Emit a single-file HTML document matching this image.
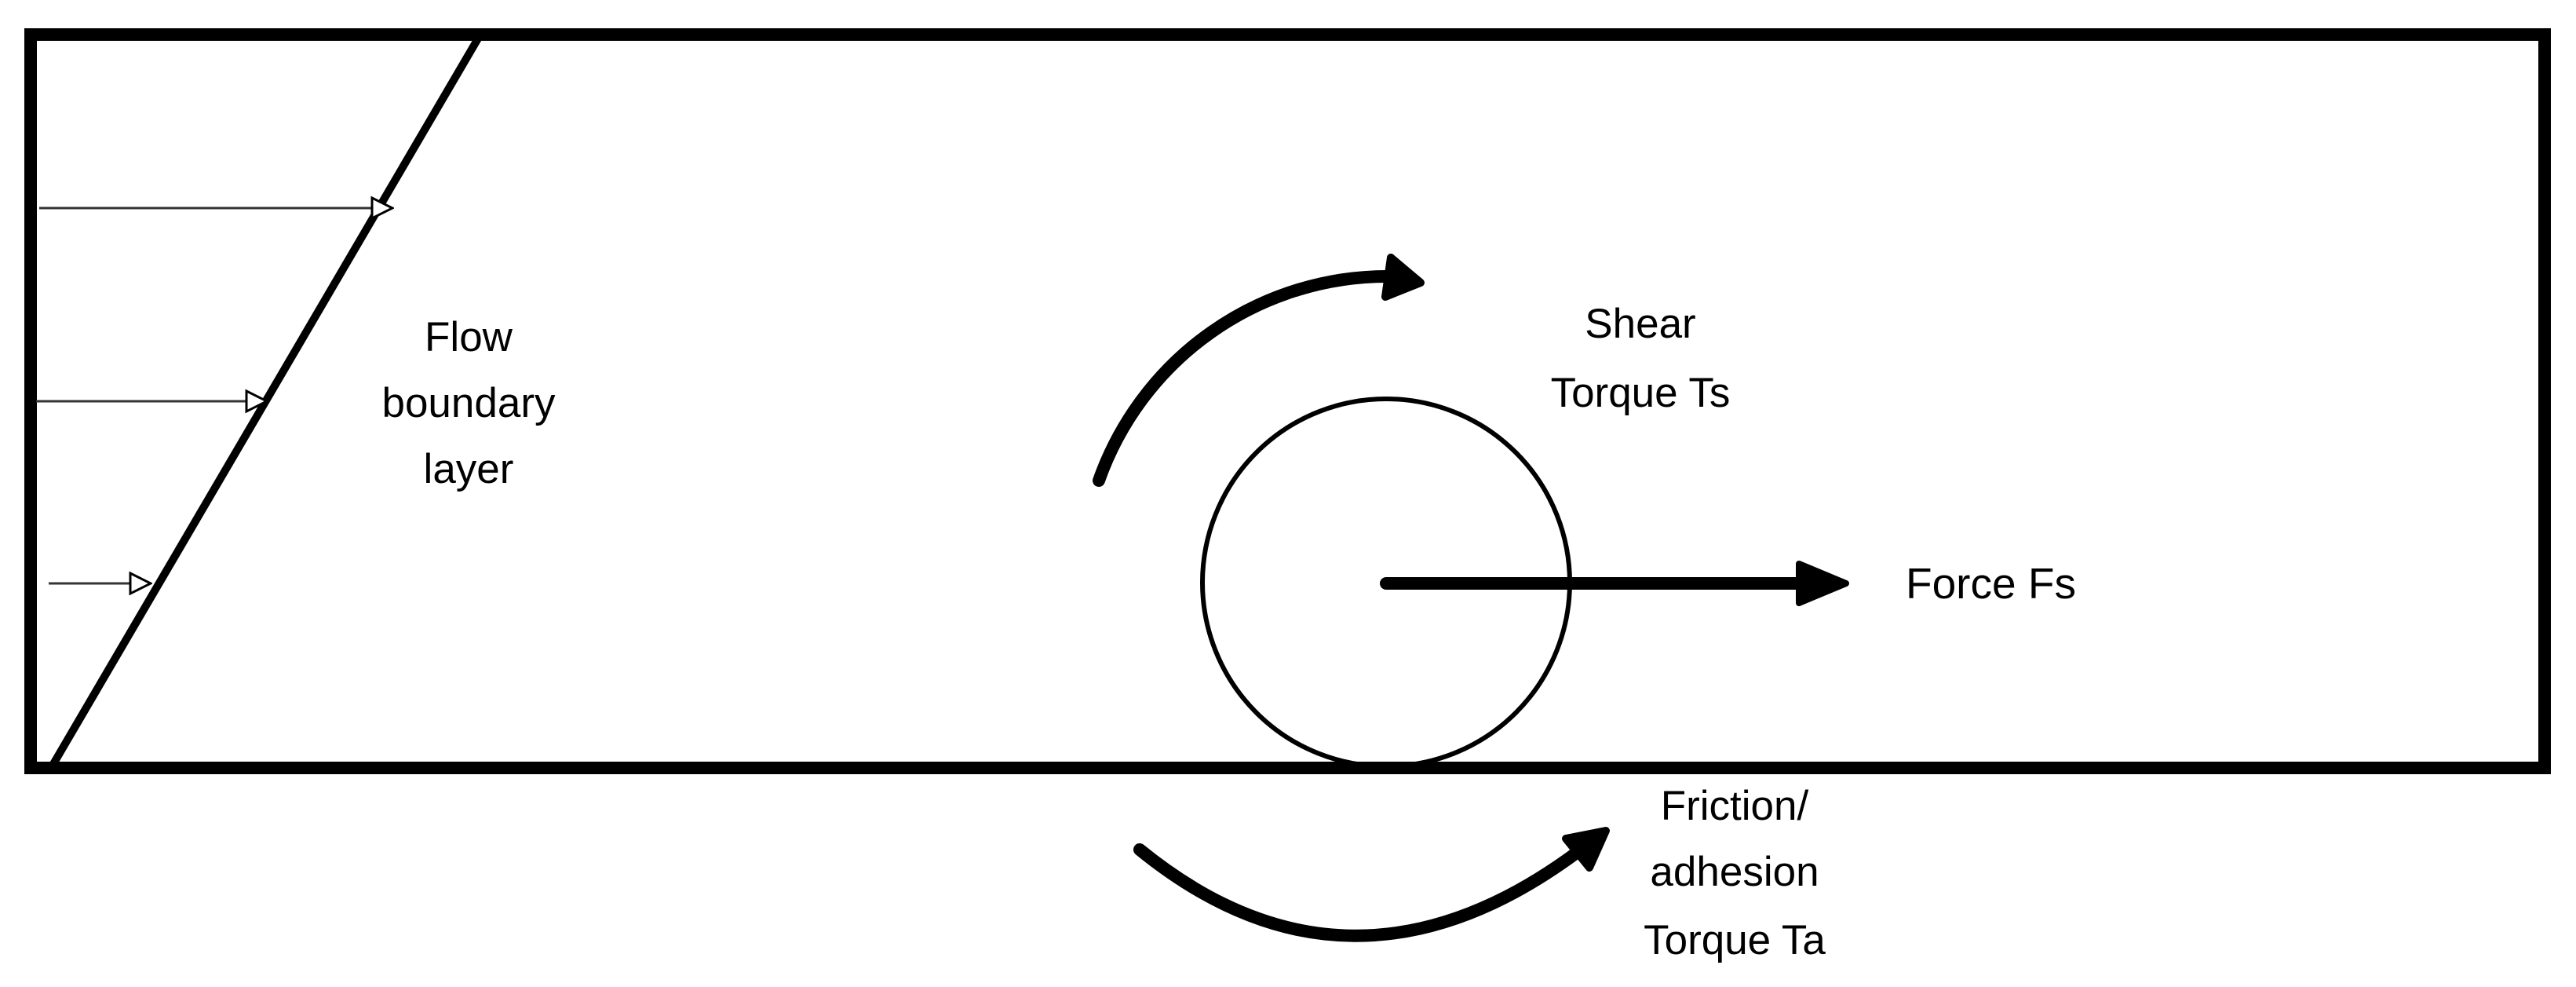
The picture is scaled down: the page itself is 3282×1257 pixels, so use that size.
<!DOCTYPE html>
<html><head><meta charset="utf-8"><style>
html,body{margin:0;padding:0;background:#fff;}
svg{display:block;}
text{font-family:"Liberation Sans",sans-serif;font-size:53px;fill:#000;}
</style></head><body>
<svg width="3282" height="1257" viewBox="0 0 3282 1257" xmlns="http://www.w3.org/2000/svg">
<defs>
<marker id="open" markerWidth="30" markerHeight="34" refX="28" refY="16" orient="auto" markerUnits="userSpaceOnUse">
<path d="M2,3 L28,16 L2,29 Z" fill="#fff" stroke="#000" stroke-width="3"/>
</marker>
</defs>
<rect x="39" y="44" width="3203" height="934" fill="none" stroke="#000" stroke-width="16"/>
<line x1="612" y1="44" x2="65" y2="978" stroke="#000" stroke-width="10"/>
<line x1="50" y1="265" x2="500" y2="265" stroke="#333" stroke-width="3" marker-end="url(#open)"/>
<line x1="46" y1="511" x2="340" y2="511" stroke="#333" stroke-width="3" marker-end="url(#open)"/>
<line x1="62" y1="743" x2="192" y2="743" stroke="#333" stroke-width="3" marker-end="url(#open)"/>
<text text-anchor="middle"><tspan x="597" y="447">Flow</tspan><tspan x="597" y="531">boundary</tspan><tspan x="597" y="615">layer</tspan></text>
<circle cx="1766" cy="742" r="234" fill="none" stroke="#000" stroke-width="6"/>
<line x1="1766" y1="743" x2="2310" y2="743" stroke="#000" stroke-width="16" stroke-linecap="round"/>
<path d="M2292,718 L2352,743 L2292,768 Z" fill="#000" stroke="#000" stroke-width="8" stroke-linejoin="round"/>
<text x="2428" y="762" style="font-size:55px">Force Fs</text>
<path d="M1400,612 A390,390 0 0 1 1770,352" fill="none" stroke="#000" stroke-width="16" stroke-linecap="round"/>
<path d="M1772,328 L1810,360 L1765,378 Z" fill="#000" stroke="#000" stroke-width="10" stroke-linejoin="round"/>
<text text-anchor="middle"><tspan x="2090" y="430">Shear</tspan><tspan x="2090" y="518">Torque Ts</tspan></text>
<path d="M1452,1082 Q1720,1300 2010,1085" fill="none" stroke="#000" stroke-width="16" stroke-linecap="round"/>
<path d="M1995,1068 L2046,1058 L2025,1105 Z" fill="#000" stroke="#000" stroke-width="10" stroke-linejoin="round"/>
<text text-anchor="middle"><tspan x="2210" y="1044">Friction/</tspan><tspan x="2210" y="1128">adhesion</tspan><tspan x="2210" y="1215">Torque Ta</tspan></text>
</svg>
</body></html>
